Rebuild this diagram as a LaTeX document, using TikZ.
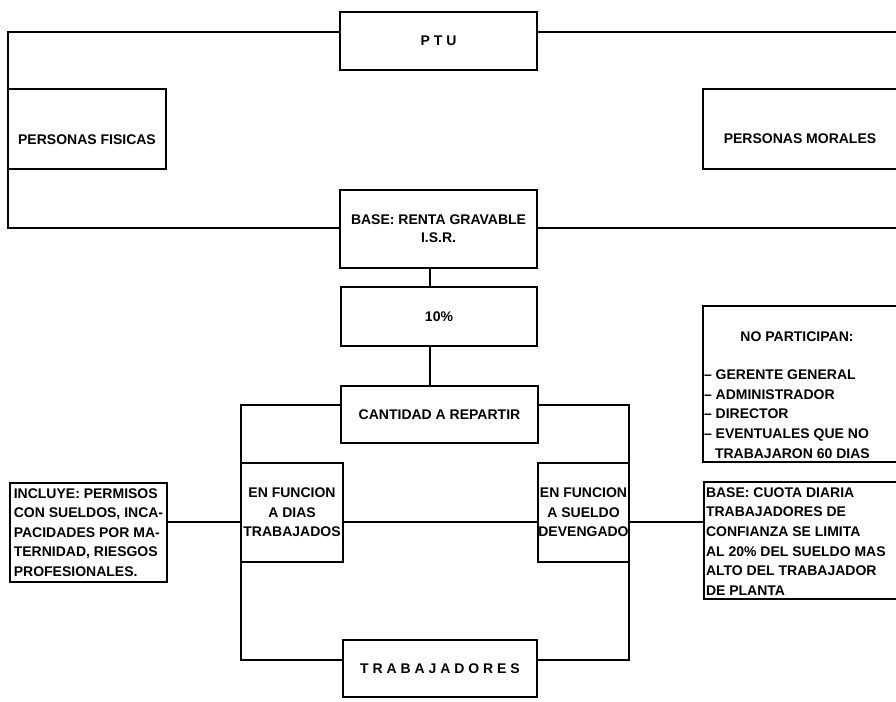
\documentclass[tikz,border=0pt]{standalone}
\usepackage{fontspec}
\setmainfont{Liberation Sans}
\newcommand\lsp{\hspace{3.9pt}}
\begin{document}
\begin{tikzpicture}[x=1pt,y=-1pt, line width=1.3pt, line join=miter,
  box/.style={draw, rectangle, inner sep=0pt, outer sep=0pt, align=center,
    font=\fontsize{14}{19.6}\selectfont\bfseries},
  txt/.style={inner sep=0pt, outer sep=0pt,
    font=\fontsize{14}{19.6}\selectfont\bfseries}]
\useasboundingbox (0,0) rectangle (896,701);
\clip (0,0) rectangle (896,701);

% boxes
\node[box, minimum width=197pt, minimum height=58pt] (ptu) at (438.5,41) {P\lsp T\lsp U};
\node[box, minimum width=158pt, minimum height=80pt] (pf) at (87,129) {};
\node[txt] (pft) at (87,140) {PERSONAS FISICAS};
\node[box, minimum width=207pt, minimum height=80pt] (pm) at (806.5,129) {};
\node[txt] (pmt) at (800,139) {PERSONAS MORALES};
\node[box, minimum width=197pt, minimum height=78pt] (base) at (438.5,229) {BASE: RENTA GRAVABLE\\[-1.6pt]I.S.R.};
\node[box, minimum width=196pt, minimum height=59pt] (diez) at (439,316.5) {10\%};
\node[box, minimum width=197pt, minimum height=57pt] (cant) at (439.5,414.5) {CANTIDAD A REPARTIR};
\node[box, minimum width=102pt, minimum height=99pt] (dias) at (292,512.5) {EN FUNCION\\A DIAS\\TRABAJADOS};
\node[box, minimum width=91pt, minimum height=99pt] (sueldo) at (583.5,512.5) {EN FUNCION\\A SUELDO\\DEVENGADO};
\node[box, minimum width=194pt, minimum height=57pt] (trab) at (440,668.5)
  {T\lsp R\lsp A\lsp B\lsp A\lsp J\lsp A\lsp D\lsp O\lsp R\lsp E\lsp S};
\node[box, align=left, minimum width=157pt, minimum height=99pt] (incl) at (88.5,532.5)
  {INCLUYE: PERMISOS\\CON SUELDOS, INCA-\\PACIDADES POR MA-\\TERNIDAD, RIESGOS\\PROFESIONALES.};
\node[box, minimum width=207pt, minimum height=156pt] (nop) at (806.5,384) {};
\node[txt] (nopt) at (797,337) {NO PARTICIPAN:};
\node[txt, anchor=west, align=left] (nopl) at (704,414)
  {– GERENTE GENERAL\\– ADMINISTRADOR\\– DIRECTOR\\– EVENTUALES QUE NO\\\hspace*{11pt}TRABAJARON 60 DIAS};
\node[box, minimum width=206pt, minimum height=117pt] (cuota) at (807,540.5) {};
\node[txt, anchor=west, align=left] (cuotat) at (706,541.5)
  {BASE: CUOTA DIARIA\\TRABAJADORES DE\\CONFIANZA SE LIMITA\\AL 20\% DEL SUELDO MAS\\ALTO DEL TRABAJADOR\\DE PLANTA};

% outer frame
\coordinate (tl) at (8,32);
\coordinate (bl) at (8,228);
\coordinate (tr) at (900,32);
\coordinate (br) at (900,228);
\draw (ptu.west |- tl) -- (tl) -- (bl) -- (base.west |- bl);
\draw (ptu.east |- tl) -- (tr);
\draw (base.east |- bl) -- (br);

% vertical chain
\coordinate (xs) at (430,0);
\draw (base.south -| xs) -- (diez.north -| xs);
\draw (diez.south -| xs) -- (cant.north -| xs);

% brackets
\coordinate (yt) at (0,405);
\coordinate (yb) at (0,660);
\coordinate (ym) at (0,522);
\draw (cant.west |- yt) -- (dias.north west |- yt) -- (dias.north west);
\draw (dias.south west) -- (dias.south west |- yb) -- (trab.west |- yb);
\draw (cant.east |- yt) -- (sueldo.north east |- yt) -- (sueldo.north east);
\draw (sueldo.south east) -- (sueldo.south east |- yb) -- (trab.east |- yb);

% middle horizontal line
\draw (incl.east |- ym) -- (dias.west |- ym);
\draw (dias.east |- ym) -- (sueldo.west |- ym);
\draw (sueldo.east |- ym) -- (cuota.west |- ym);
\end{tikzpicture}
\end{document}
